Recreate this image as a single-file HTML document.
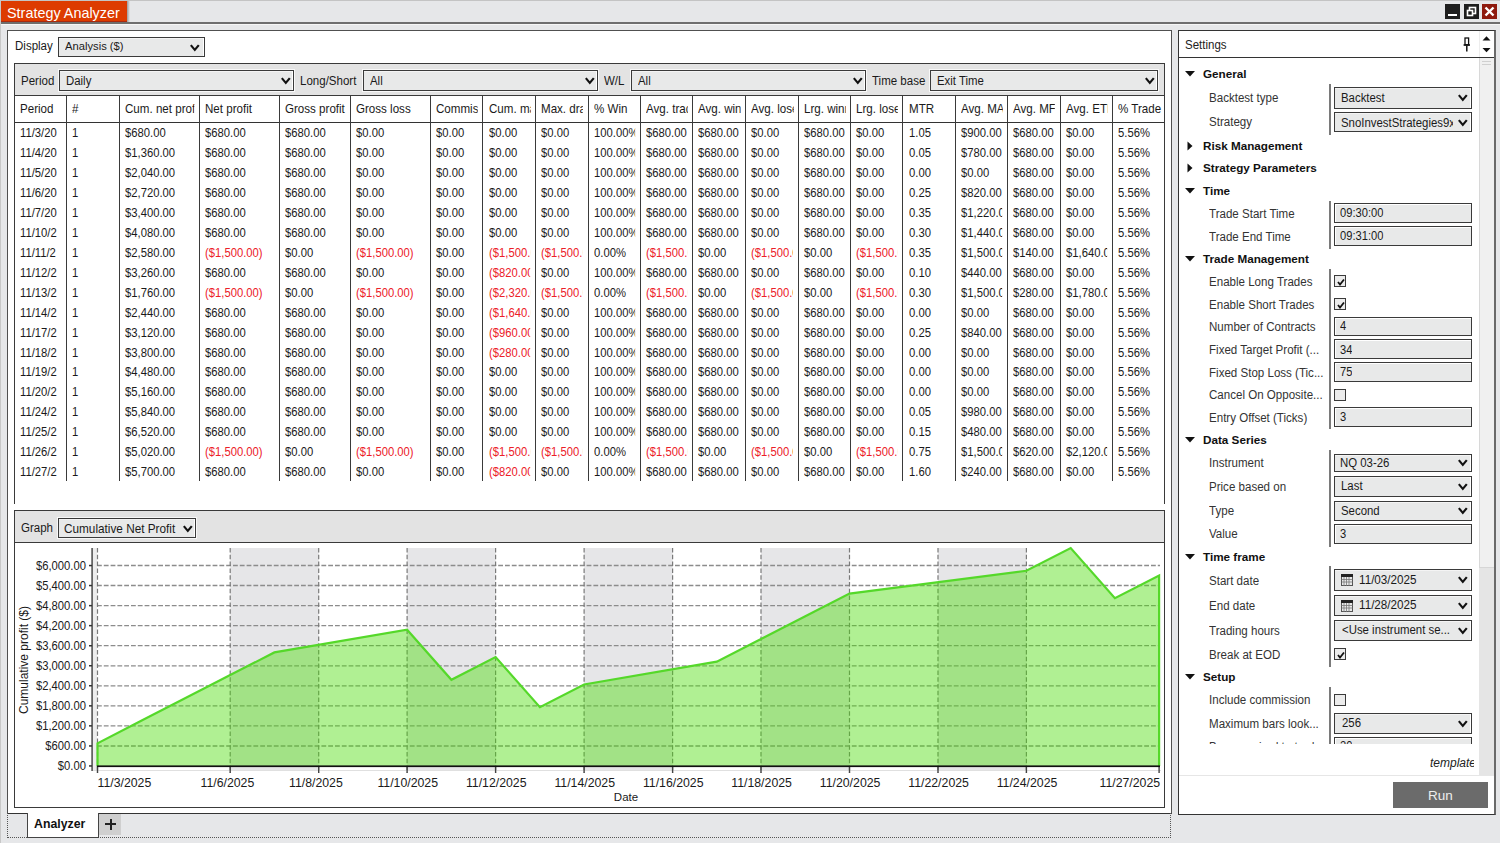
<!DOCTYPE html><html><head><meta charset="utf-8"><style>
*{box-sizing:border-box;margin:0;padding:0}
html,body{width:1500px;height:843px;overflow:hidden;background:#E6E7E9;font-family:"Liberation Sans", sans-serif;color:#1a1a1a}
.a{position:absolute}
.dd{position:absolute;background:#E8E9E9;border:1px solid #3a3a3a;box-shadow:0 0 0 1px rgba(255,255,255,0.75), inset -1px 0 0 #fff, inset 0 1px 0 #f4f4f4}
.ddt{position:absolute;top:0.8px;white-space:nowrap;overflow:hidden;color:#1a1a1a}
.tb{position:absolute;background:#E8E9E9;border:1px solid #3a3a3a;box-shadow:inset 1px 1px 0 #fff}
.cb{position:absolute;background:#ECECEC;border:1px solid #3a3a3a;width:12px;height:12px}
.lbl{position:absolute;white-space:nowrap;font-size:12px;transform:scaleX(0.96);transform-origin:0 0}
.cell{position:absolute;white-space:nowrap;overflow:hidden;font-size:11.5px;letter-spacing:-0.3px}
.red{color:#EC2028}
.dc{font-size:12.3px;letter-spacing:0;transform:scaleX(0.915);transform-origin:0 0}
.cat{position:absolute;white-space:nowrap;font-weight:bold;font-size:11.7px;color:#111}
.item{position:absolute;white-space:nowrap;font-size:12px;color:#333;transform:scaleX(0.963);transform-origin:0 0}
</style></head><body><div class="a" style="left:0;top:0;width:1500px;height:1px;background:#C4C4C4"></div><div class="a" style="left:0;top:22px;width:1500px;height:2px;background:#6E6E6E"></div><div class="a" style="left:0;top:24px;width:1500px;height:1px;background:#F6F6F6"></div><div class="a" style="left:0;top:0;width:1px;height:843px;background:#C8C8C8"></div><div class="a" style="left:1px;top:1px;width:126px;height:21px;background:#DD3B00;border-bottom:1px solid #A82A10"></div><div class="a" style="left:127px;top:1px;width:3px;height:21px;background:linear-gradient(90deg,#9a9a9a,#E6E7E9)"></div><div class="a" style="left:7px;top:2.5px;line-height:21px;font-size:14.4px;color:#fff;white-space:nowrap">Strategy Analyzer</div><div class="a" style="left:1445px;top:4px;width:15px;height:15px;background:#1E1E1E"></div><div class="a" style="left:1448px;top:14px;width:9px;height:2px;background:#fff"></div><div class="a" style="left:1464px;top:4px;width:15px;height:15px;background:#1E1E1E"></div><svg class="a" style="left:1464px;top:4px" width="15" height="15" viewBox="0 0 15 15"><rect x="5.5" y="3.5" width="6" height="6" fill="none" stroke="#fff" stroke-width="1.6"/><rect x="3.5" y="6.5" width="5" height="5" fill="#1E1E1E" stroke="#fff" stroke-width="1.6"/></svg><div class="a" style="left:1482px;top:4px;width:15px;height:15px;background:#8E1A0E"></div><svg class="a" style="left:1482px;top:4px" width="15" height="15" viewBox="0 0 15 15"><path d="M3.5 3.5 L11.5 11.5 M11.5 3.5 L3.5 11.5" stroke="#fff" stroke-width="2.4"/></svg><div class="a" style="left:7px;top:30px;width:1165px;height:784px;background:#fff;border:1px solid #505050;border-bottom:1px solid #333"></div><div class="a" style="left:7px;top:813px;width:1px;height:25px;border-left:1px dotted #555"></div><div class="a" style="left:1170px;top:813px;width:1px;height:25px;border-left:1px dotted #555"></div><div class="a" style="left:7px;top:837px;width:1164px;height:1px;border-top:1px dotted #555"></div><div class="a" style="left:26.5px;top:813px;width:72px;height:25px;background:#fff;border-left:1px solid #444;border-right:1px solid #444;border-bottom:1px solid #444"></div><div class="a" style="left:34px;top:814px;line-height:20px;font-size:12.3px;font-weight:bold;color:#111">Analyzer</div><div class="a" style="left:99px;top:814px;width:22px;height:21px;background:#CFCFCF"></div><div class="a" style="left:105px;top:823px;width:11px;height:2px;background:#222"></div><div class="a" style="left:109.5px;top:818.5px;width:2px;height:11px;background:#222"></div><div class="lbl" style="left:14.5px;top:36.3px;line-height:20px">Display</div><div class="dd" style="left:58px;top:37px;width:147px;height:20px;"><div class="ddt" style="left:6px;top:-0.7px;line-height:18px;font-size:11.8px;width:127.4px;transform:scaleX(0.95);transform-origin:0 0">Analysis ($)</div><svg style="position:absolute;left:130.5px;top:5.5px" width="10" height="8" viewBox="0 0 10 8"><path d="M0.8 1.1 L4.8 5.9 L8.8 1.1" fill="none" stroke="#111" stroke-width="2.2"/></svg></div><div class="a" style="left:14px;top:63px;width:1151px;height:441px;border:1px solid #3a3a3a;border-bottom:none;background:#fff"></div><div class="a" style="left:15px;top:64px;width:1149px;height:32px;background:#E3E3E3;border-bottom:1px solid #3a3a3a"></div><div class="lbl" style="left:21px;top:70.7px;line-height:20px">Period</div><div class="dd" style="left:59px;top:70px;width:235px;height:21px;"><div class="ddt" style="left:6px;top:0.8px;line-height:19px;font-size:12px;width:220.0px;transform:scaleX(0.95);transform-origin:0 0">Daily</div><svg style="position:absolute;left:221px;top:6.0px" width="10" height="8" viewBox="0 0 10 8"><path d="M0.8 1.1 L4.8 5.9 L8.8 1.1" fill="none" stroke="#111" stroke-width="2.2"/></svg></div><div class="lbl" style="left:300px;top:70.7px;line-height:20px">Long/Short</div><div class="dd" style="left:363px;top:70px;width:235px;height:21px;"><div class="ddt" style="left:6px;top:0.8px;line-height:19px;font-size:12px;width:220.0px;transform:scaleX(0.95);transform-origin:0 0">All</div><svg style="position:absolute;left:221px;top:6.0px" width="10" height="8" viewBox="0 0 10 8"><path d="M0.8 1.1 L4.8 5.9 L8.8 1.1" fill="none" stroke="#111" stroke-width="2.2"/></svg></div><div class="lbl" style="left:604px;top:70.7px;line-height:20px">W/L</div><div class="dd" style="left:631px;top:70px;width:235px;height:21px;"><div class="ddt" style="left:6px;top:0.8px;line-height:19px;font-size:12px;width:220.0px;transform:scaleX(0.95);transform-origin:0 0">All</div><svg style="position:absolute;left:221px;top:6.0px" width="10" height="8" viewBox="0 0 10 8"><path d="M0.8 1.1 L4.8 5.9 L8.8 1.1" fill="none" stroke="#111" stroke-width="2.2"/></svg></div><div class="lbl" style="left:872px;top:70.7px;line-height:20px">Time base</div><div class="dd" style="left:930px;top:70px;width:228px;height:21px;"><div class="ddt" style="left:6px;top:0.8px;line-height:19px;font-size:12px;width:212.6px;transform:scaleX(0.95);transform-origin:0 0">Exit Time</div><svg style="position:absolute;left:214px;top:6.0px" width="10" height="8" viewBox="0 0 10 8"><path d="M0.8 1.1 L4.8 5.9 L8.8 1.1" fill="none" stroke="#111" stroke-width="2.2"/></svg></div><div class="a" style="left:15px;top:122px;width:1149px;height:1px;background:#333"></div><div class="a" style="left:66px;top:95px;width:1px;height:386px;background:#3a3a3a"></div><div class="a" style="left:119px;top:95px;width:1px;height:386px;background:#3a3a3a"></div><div class="a" style="left:199px;top:95px;width:1px;height:386px;background:#3a3a3a"></div><div class="a" style="left:279px;top:95px;width:1px;height:386px;background:#3a3a3a"></div><div class="a" style="left:350px;top:95px;width:1px;height:386px;background:#3a3a3a"></div><div class="a" style="left:430px;top:95px;width:1px;height:386px;background:#3a3a3a"></div><div class="a" style="left:482px;top:95px;width:1px;height:386px;background:#3a3a3a"></div><div class="a" style="left:535px;top:95px;width:1px;height:386px;background:#3a3a3a"></div><div class="a" style="left:588px;top:95px;width:1px;height:386px;background:#3a3a3a"></div><div class="a" style="left:640px;top:95px;width:1px;height:386px;background:#3a3a3a"></div><div class="a" style="left:692px;top:95px;width:1px;height:386px;background:#3a3a3a"></div><div class="a" style="left:745px;top:95px;width:1px;height:386px;background:#3a3a3a"></div><div class="a" style="left:798px;top:95px;width:1px;height:386px;background:#3a3a3a"></div><div class="a" style="left:850px;top:95px;width:1px;height:386px;background:#3a3a3a"></div><div class="a" style="left:902px;top:95px;width:1px;height:386px;background:#3a3a3a"></div><div class="a" style="left:955px;top:95px;width:1px;height:386px;background:#3a3a3a"></div><div class="a" style="left:1007px;top:95px;width:1px;height:386px;background:#3a3a3a"></div><div class="a" style="left:1060px;top:95px;width:1px;height:386px;background:#3a3a3a"></div><div class="a" style="left:1112px;top:95px;width:1px;height:386px;background:#3a3a3a"></div><div class="cell" style="left:19.5px;top:96px;width:44.5px;line-height:26px;letter-spacing:0;font-size:12.2px;transform:scaleX(0.95);transform-origin:0 0">Period</div><div class="cell" style="left:72.25px;top:96px;width:44.2px;line-height:26px;letter-spacing:0;font-size:12.2px;transform:scaleX(0.95);transform-origin:0 0">#</div><div class="cell" style="left:124.75px;top:96px;width:73.2px;line-height:26px;letter-spacing:0;font-size:12.2px;transform:scaleX(0.95);transform-origin:0 0">Cum. net profit</div><div class="cell" style="left:204.75px;top:96px;width:73.2px;line-height:26px;letter-spacing:0;font-size:12.2px;transform:scaleX(0.95);transform-origin:0 0">Net profit</div><div class="cell" style="left:284.75px;top:96px;width:63.9px;line-height:26px;letter-spacing:0;font-size:12.2px;transform:scaleX(0.95);transform-origin:0 0">Gross profit</div><div class="cell" style="left:356.0px;top:96px;width:73.2px;line-height:26px;letter-spacing:0;font-size:12.2px;transform:scaleX(0.95);transform-origin:0 0">Gross loss</div><div class="cell" style="left:436.0px;top:96px;width:44.2px;line-height:26px;letter-spacing:0;font-size:12.2px;transform:scaleX(0.95);transform-origin:0 0">Commission</div><div class="cell" style="left:488.5px;top:96px;width:44.2px;line-height:26px;letter-spacing:0;font-size:12.2px;transform:scaleX(0.95);transform-origin:0 0">Cum. max drawdown</div><div class="cell" style="left:541.0px;top:96px;width:44.2px;line-height:26px;letter-spacing:0;font-size:12.2px;transform:scaleX(0.95);transform-origin:0 0">Max. drawdown</div><div class="cell" style="left:593.5px;top:96px;width:44.2px;line-height:26px;letter-spacing:0;font-size:12.2px;transform:scaleX(0.95);transform-origin:0 0">% Win</div><div class="cell" style="left:646.0px;top:96px;width:43.7px;line-height:26px;letter-spacing:0;font-size:12.2px;transform:scaleX(0.95);transform-origin:0 0">Avg. trade</div><div class="cell" style="left:698.0px;top:96px;width:44.7px;line-height:26px;letter-spacing:0;font-size:12.2px;transform:scaleX(0.95);transform-origin:0 0">Avg. winner</div><div class="cell" style="left:751.0px;top:96px;width:44.7px;line-height:26px;letter-spacing:0;font-size:12.2px;transform:scaleX(0.95);transform-origin:0 0">Avg. loser</div><div class="cell" style="left:804.0px;top:96px;width:43.9px;line-height:26px;letter-spacing:0;font-size:12.2px;transform:scaleX(0.95);transform-origin:0 0">Lrg. winner</div><div class="cell" style="left:856.25px;top:96px;width:43.9px;line-height:26px;letter-spacing:0;font-size:12.2px;transform:scaleX(0.95);transform-origin:0 0">Lrg. loser</div><div class="cell" style="left:908.5px;top:96px;width:44.2px;line-height:26px;letter-spacing:0;font-size:12.2px;transform:scaleX(0.95);transform-origin:0 0">MTR</div><div class="cell" style="left:961.0px;top:96px;width:43.7px;line-height:26px;letter-spacing:0;font-size:12.2px;transform:scaleX(0.95);transform-origin:0 0">Avg. MAE</div><div class="cell" style="left:1013.0px;top:96px;width:44.4px;line-height:26px;letter-spacing:0;font-size:12.2px;transform:scaleX(0.95);transform-origin:0 0">Avg. MFE</div><div class="cell" style="left:1065.7px;top:96px;width:43.9px;line-height:26px;letter-spacing:0;font-size:12.2px;transform:scaleX(0.95);transform-origin:0 0">Avg. ETD</div><div class="cell" style="left:1117.9px;top:96px;width:50.3px;line-height:26px;letter-spacing:0;font-size:12.2px;transform:scaleX(0.95);transform-origin:0 0">% Trade</div><div class="cell dc" style="left:19.6px;top:123.20px;width:45.63px;line-height:20px">11/3/20</div><div class="cell dc" style="left:72.35px;top:123.20px;width:45.36px;line-height:20px">1</div><div class="cell dc" style="left:124.85px;top:123.20px;width:75.41px;line-height:20px">$680.00</div><div class="cell dc" style="left:204.85px;top:123.20px;width:75.41px;line-height:20px">$680.00</div><div class="cell dc" style="left:284.85px;top:123.20px;width:65.85px;line-height:20px">$680.00</div><div class="cell dc" style="left:356.1px;top:123.20px;width:75.41px;line-height:20px">$0.00</div><div class="cell dc" style="left:436.1px;top:123.20px;width:45.36px;line-height:20px">$0.00</div><div class="cell dc" style="left:488.6px;top:123.20px;width:45.36px;line-height:20px">$0.00</div><div class="cell dc" style="left:541.1px;top:123.20px;width:45.36px;line-height:20px">$0.00</div><div class="cell dc" style="left:593.6px;top:123.20px;width:45.36px;line-height:20px">100.00%</div><div class="cell dc" style="left:646.1px;top:123.20px;width:44.81px;line-height:20px">$680.00</div><div class="cell dc" style="left:698.1px;top:123.20px;width:45.90px;line-height:20px">$680.00</div><div class="cell dc" style="left:751.1px;top:123.20px;width:45.90px;line-height:20px">$0.00</div><div class="cell dc" style="left:804.1px;top:123.20px;width:45.08px;line-height:20px">$680.00</div><div class="cell dc" style="left:856.35px;top:123.20px;width:45.08px;line-height:20px">$0.00</div><div class="cell dc" style="left:908.6px;top:123.20px;width:45.36px;line-height:20px">1.05</div><div class="cell dc" style="left:961.1px;top:123.20px;width:44.81px;line-height:20px">$900.00</div><div class="cell dc" style="left:1013.1px;top:123.20px;width:45.57px;line-height:20px">$680.00</div><div class="cell dc" style="left:1065.8px;top:123.20px;width:45.03px;line-height:20px">$0.00</div><div class="cell dc" style="left:1118.0px;top:123.20px;width:45.14px;line-height:20px">5.56%</div><div class="cell dc" style="left:19.6px;top:143.14px;width:45.63px;line-height:20px">11/4/20</div><div class="cell dc" style="left:72.35px;top:143.14px;width:45.36px;line-height:20px">1</div><div class="cell dc" style="left:124.85px;top:143.14px;width:75.41px;line-height:20px">$1,360.00</div><div class="cell dc" style="left:204.85px;top:143.14px;width:75.41px;line-height:20px">$680.00</div><div class="cell dc" style="left:284.85px;top:143.14px;width:65.85px;line-height:20px">$680.00</div><div class="cell dc" style="left:356.1px;top:143.14px;width:75.41px;line-height:20px">$0.00</div><div class="cell dc" style="left:436.1px;top:143.14px;width:45.36px;line-height:20px">$0.00</div><div class="cell dc" style="left:488.6px;top:143.14px;width:45.36px;line-height:20px">$0.00</div><div class="cell dc" style="left:541.1px;top:143.14px;width:45.36px;line-height:20px">$0.00</div><div class="cell dc" style="left:593.6px;top:143.14px;width:45.36px;line-height:20px">100.00%</div><div class="cell dc" style="left:646.1px;top:143.14px;width:44.81px;line-height:20px">$680.00</div><div class="cell dc" style="left:698.1px;top:143.14px;width:45.90px;line-height:20px">$680.00</div><div class="cell dc" style="left:751.1px;top:143.14px;width:45.90px;line-height:20px">$0.00</div><div class="cell dc" style="left:804.1px;top:143.14px;width:45.08px;line-height:20px">$680.00</div><div class="cell dc" style="left:856.35px;top:143.14px;width:45.08px;line-height:20px">$0.00</div><div class="cell dc" style="left:908.6px;top:143.14px;width:45.36px;line-height:20px">0.05</div><div class="cell dc" style="left:961.1px;top:143.14px;width:44.81px;line-height:20px">$780.00</div><div class="cell dc" style="left:1013.1px;top:143.14px;width:45.57px;line-height:20px">$680.00</div><div class="cell dc" style="left:1065.8px;top:143.14px;width:45.03px;line-height:20px">$0.00</div><div class="cell dc" style="left:1118.0px;top:143.14px;width:45.14px;line-height:20px">5.56%</div><div class="cell dc" style="left:19.6px;top:163.08px;width:45.63px;line-height:20px">11/5/20</div><div class="cell dc" style="left:72.35px;top:163.08px;width:45.36px;line-height:20px">1</div><div class="cell dc" style="left:124.85px;top:163.08px;width:75.41px;line-height:20px">$2,040.00</div><div class="cell dc" style="left:204.85px;top:163.08px;width:75.41px;line-height:20px">$680.00</div><div class="cell dc" style="left:284.85px;top:163.08px;width:65.85px;line-height:20px">$680.00</div><div class="cell dc" style="left:356.1px;top:163.08px;width:75.41px;line-height:20px">$0.00</div><div class="cell dc" style="left:436.1px;top:163.08px;width:45.36px;line-height:20px">$0.00</div><div class="cell dc" style="left:488.6px;top:163.08px;width:45.36px;line-height:20px">$0.00</div><div class="cell dc" style="left:541.1px;top:163.08px;width:45.36px;line-height:20px">$0.00</div><div class="cell dc" style="left:593.6px;top:163.08px;width:45.36px;line-height:20px">100.00%</div><div class="cell dc" style="left:646.1px;top:163.08px;width:44.81px;line-height:20px">$680.00</div><div class="cell dc" style="left:698.1px;top:163.08px;width:45.90px;line-height:20px">$680.00</div><div class="cell dc" style="left:751.1px;top:163.08px;width:45.90px;line-height:20px">$0.00</div><div class="cell dc" style="left:804.1px;top:163.08px;width:45.08px;line-height:20px">$680.00</div><div class="cell dc" style="left:856.35px;top:163.08px;width:45.08px;line-height:20px">$0.00</div><div class="cell dc" style="left:908.6px;top:163.08px;width:45.36px;line-height:20px">0.00</div><div class="cell dc" style="left:961.1px;top:163.08px;width:44.81px;line-height:20px">$0.00</div><div class="cell dc" style="left:1013.1px;top:163.08px;width:45.57px;line-height:20px">$680.00</div><div class="cell dc" style="left:1065.8px;top:163.08px;width:45.03px;line-height:20px">$0.00</div><div class="cell dc" style="left:1118.0px;top:163.08px;width:45.14px;line-height:20px">5.56%</div><div class="cell dc" style="left:19.6px;top:183.02px;width:45.63px;line-height:20px">11/6/20</div><div class="cell dc" style="left:72.35px;top:183.02px;width:45.36px;line-height:20px">1</div><div class="cell dc" style="left:124.85px;top:183.02px;width:75.41px;line-height:20px">$2,720.00</div><div class="cell dc" style="left:204.85px;top:183.02px;width:75.41px;line-height:20px">$680.00</div><div class="cell dc" style="left:284.85px;top:183.02px;width:65.85px;line-height:20px">$680.00</div><div class="cell dc" style="left:356.1px;top:183.02px;width:75.41px;line-height:20px">$0.00</div><div class="cell dc" style="left:436.1px;top:183.02px;width:45.36px;line-height:20px">$0.00</div><div class="cell dc" style="left:488.6px;top:183.02px;width:45.36px;line-height:20px">$0.00</div><div class="cell dc" style="left:541.1px;top:183.02px;width:45.36px;line-height:20px">$0.00</div><div class="cell dc" style="left:593.6px;top:183.02px;width:45.36px;line-height:20px">100.00%</div><div class="cell dc" style="left:646.1px;top:183.02px;width:44.81px;line-height:20px">$680.00</div><div class="cell dc" style="left:698.1px;top:183.02px;width:45.90px;line-height:20px">$680.00</div><div class="cell dc" style="left:751.1px;top:183.02px;width:45.90px;line-height:20px">$0.00</div><div class="cell dc" style="left:804.1px;top:183.02px;width:45.08px;line-height:20px">$680.00</div><div class="cell dc" style="left:856.35px;top:183.02px;width:45.08px;line-height:20px">$0.00</div><div class="cell dc" style="left:908.6px;top:183.02px;width:45.36px;line-height:20px">0.25</div><div class="cell dc" style="left:961.1px;top:183.02px;width:44.81px;line-height:20px">$820.00</div><div class="cell dc" style="left:1013.1px;top:183.02px;width:45.57px;line-height:20px">$680.00</div><div class="cell dc" style="left:1065.8px;top:183.02px;width:45.03px;line-height:20px">$0.00</div><div class="cell dc" style="left:1118.0px;top:183.02px;width:45.14px;line-height:20px">5.56%</div><div class="cell dc" style="left:19.6px;top:202.96px;width:45.63px;line-height:20px">11/7/20</div><div class="cell dc" style="left:72.35px;top:202.96px;width:45.36px;line-height:20px">1</div><div class="cell dc" style="left:124.85px;top:202.96px;width:75.41px;line-height:20px">$3,400.00</div><div class="cell dc" style="left:204.85px;top:202.96px;width:75.41px;line-height:20px">$680.00</div><div class="cell dc" style="left:284.85px;top:202.96px;width:65.85px;line-height:20px">$680.00</div><div class="cell dc" style="left:356.1px;top:202.96px;width:75.41px;line-height:20px">$0.00</div><div class="cell dc" style="left:436.1px;top:202.96px;width:45.36px;line-height:20px">$0.00</div><div class="cell dc" style="left:488.6px;top:202.96px;width:45.36px;line-height:20px">$0.00</div><div class="cell dc" style="left:541.1px;top:202.96px;width:45.36px;line-height:20px">$0.00</div><div class="cell dc" style="left:593.6px;top:202.96px;width:45.36px;line-height:20px">100.00%</div><div class="cell dc" style="left:646.1px;top:202.96px;width:44.81px;line-height:20px">$680.00</div><div class="cell dc" style="left:698.1px;top:202.96px;width:45.90px;line-height:20px">$680.00</div><div class="cell dc" style="left:751.1px;top:202.96px;width:45.90px;line-height:20px">$0.00</div><div class="cell dc" style="left:804.1px;top:202.96px;width:45.08px;line-height:20px">$680.00</div><div class="cell dc" style="left:856.35px;top:202.96px;width:45.08px;line-height:20px">$0.00</div><div class="cell dc" style="left:908.6px;top:202.96px;width:45.36px;line-height:20px">0.35</div><div class="cell dc" style="left:961.1px;top:202.96px;width:44.81px;line-height:20px">$1,220.00</div><div class="cell dc" style="left:1013.1px;top:202.96px;width:45.57px;line-height:20px">$680.00</div><div class="cell dc" style="left:1065.8px;top:202.96px;width:45.03px;line-height:20px">$0.00</div><div class="cell dc" style="left:1118.0px;top:202.96px;width:45.14px;line-height:20px">5.56%</div><div class="cell dc" style="left:19.6px;top:222.90px;width:45.63px;line-height:20px">11/10/2</div><div class="cell dc" style="left:72.35px;top:222.90px;width:45.36px;line-height:20px">1</div><div class="cell dc" style="left:124.85px;top:222.90px;width:75.41px;line-height:20px">$4,080.00</div><div class="cell dc" style="left:204.85px;top:222.90px;width:75.41px;line-height:20px">$680.00</div><div class="cell dc" style="left:284.85px;top:222.90px;width:65.85px;line-height:20px">$680.00</div><div class="cell dc" style="left:356.1px;top:222.90px;width:75.41px;line-height:20px">$0.00</div><div class="cell dc" style="left:436.1px;top:222.90px;width:45.36px;line-height:20px">$0.00</div><div class="cell dc" style="left:488.6px;top:222.90px;width:45.36px;line-height:20px">$0.00</div><div class="cell dc" style="left:541.1px;top:222.90px;width:45.36px;line-height:20px">$0.00</div><div class="cell dc" style="left:593.6px;top:222.90px;width:45.36px;line-height:20px">100.00%</div><div class="cell dc" style="left:646.1px;top:222.90px;width:44.81px;line-height:20px">$680.00</div><div class="cell dc" style="left:698.1px;top:222.90px;width:45.90px;line-height:20px">$680.00</div><div class="cell dc" style="left:751.1px;top:222.90px;width:45.90px;line-height:20px">$0.00</div><div class="cell dc" style="left:804.1px;top:222.90px;width:45.08px;line-height:20px">$680.00</div><div class="cell dc" style="left:856.35px;top:222.90px;width:45.08px;line-height:20px">$0.00</div><div class="cell dc" style="left:908.6px;top:222.90px;width:45.36px;line-height:20px">0.30</div><div class="cell dc" style="left:961.1px;top:222.90px;width:44.81px;line-height:20px">$1,440.00</div><div class="cell dc" style="left:1013.1px;top:222.90px;width:45.57px;line-height:20px">$680.00</div><div class="cell dc" style="left:1065.8px;top:222.90px;width:45.03px;line-height:20px">$0.00</div><div class="cell dc" style="left:1118.0px;top:222.90px;width:45.14px;line-height:20px">5.56%</div><div class="cell dc" style="left:19.6px;top:242.84px;width:45.63px;line-height:20px">11/11/2</div><div class="cell dc" style="left:72.35px;top:242.84px;width:45.36px;line-height:20px">1</div><div class="cell dc" style="left:124.85px;top:242.84px;width:75.41px;line-height:20px">$2,580.00</div><div class="cell red dc" style="left:204.85px;top:242.84px;width:75.41px;line-height:20px">($1,500.00)</div><div class="cell dc" style="left:284.85px;top:242.84px;width:65.85px;line-height:20px">$0.00</div><div class="cell red dc" style="left:356.1px;top:242.84px;width:75.41px;line-height:20px">($1,500.00)</div><div class="cell dc" style="left:436.1px;top:242.84px;width:45.36px;line-height:20px">$0.00</div><div class="cell red dc" style="left:488.6px;top:242.84px;width:45.36px;line-height:20px">($1,500.00)</div><div class="cell red dc" style="left:541.1px;top:242.84px;width:45.36px;line-height:20px">($1,500.00)</div><div class="cell dc" style="left:593.6px;top:242.84px;width:45.36px;line-height:20px">0.00%</div><div class="cell red dc" style="left:646.1px;top:242.84px;width:44.81px;line-height:20px">($1,500.00)</div><div class="cell dc" style="left:698.1px;top:242.84px;width:45.90px;line-height:20px">$0.00</div><div class="cell red dc" style="left:751.1px;top:242.84px;width:45.90px;line-height:20px">($1,500.00)</div><div class="cell dc" style="left:804.1px;top:242.84px;width:45.08px;line-height:20px">$0.00</div><div class="cell red dc" style="left:856.35px;top:242.84px;width:45.08px;line-height:20px">($1,500.00)</div><div class="cell dc" style="left:908.6px;top:242.84px;width:45.36px;line-height:20px">0.35</div><div class="cell dc" style="left:961.1px;top:242.84px;width:44.81px;line-height:20px">$1,500.00</div><div class="cell dc" style="left:1013.1px;top:242.84px;width:45.57px;line-height:20px">$140.00</div><div class="cell dc" style="left:1065.8px;top:242.84px;width:45.03px;line-height:20px">$1,640.00</div><div class="cell dc" style="left:1118.0px;top:242.84px;width:45.14px;line-height:20px">5.56%</div><div class="cell dc" style="left:19.6px;top:262.78px;width:45.63px;line-height:20px">11/12/2</div><div class="cell dc" style="left:72.35px;top:262.78px;width:45.36px;line-height:20px">1</div><div class="cell dc" style="left:124.85px;top:262.78px;width:75.41px;line-height:20px">$3,260.00</div><div class="cell dc" style="left:204.85px;top:262.78px;width:75.41px;line-height:20px">$680.00</div><div class="cell dc" style="left:284.85px;top:262.78px;width:65.85px;line-height:20px">$680.00</div><div class="cell dc" style="left:356.1px;top:262.78px;width:75.41px;line-height:20px">$0.00</div><div class="cell dc" style="left:436.1px;top:262.78px;width:45.36px;line-height:20px">$0.00</div><div class="cell red dc" style="left:488.6px;top:262.78px;width:45.36px;line-height:20px">($820.00)</div><div class="cell dc" style="left:541.1px;top:262.78px;width:45.36px;line-height:20px">$0.00</div><div class="cell dc" style="left:593.6px;top:262.78px;width:45.36px;line-height:20px">100.00%</div><div class="cell dc" style="left:646.1px;top:262.78px;width:44.81px;line-height:20px">$680.00</div><div class="cell dc" style="left:698.1px;top:262.78px;width:45.90px;line-height:20px">$680.00</div><div class="cell dc" style="left:751.1px;top:262.78px;width:45.90px;line-height:20px">$0.00</div><div class="cell dc" style="left:804.1px;top:262.78px;width:45.08px;line-height:20px">$680.00</div><div class="cell dc" style="left:856.35px;top:262.78px;width:45.08px;line-height:20px">$0.00</div><div class="cell dc" style="left:908.6px;top:262.78px;width:45.36px;line-height:20px">0.10</div><div class="cell dc" style="left:961.1px;top:262.78px;width:44.81px;line-height:20px">$440.00</div><div class="cell dc" style="left:1013.1px;top:262.78px;width:45.57px;line-height:20px">$680.00</div><div class="cell dc" style="left:1065.8px;top:262.78px;width:45.03px;line-height:20px">$0.00</div><div class="cell dc" style="left:1118.0px;top:262.78px;width:45.14px;line-height:20px">5.56%</div><div class="cell dc" style="left:19.6px;top:282.72px;width:45.63px;line-height:20px">11/13/2</div><div class="cell dc" style="left:72.35px;top:282.72px;width:45.36px;line-height:20px">1</div><div class="cell dc" style="left:124.85px;top:282.72px;width:75.41px;line-height:20px">$1,760.00</div><div class="cell red dc" style="left:204.85px;top:282.72px;width:75.41px;line-height:20px">($1,500.00)</div><div class="cell dc" style="left:284.85px;top:282.72px;width:65.85px;line-height:20px">$0.00</div><div class="cell red dc" style="left:356.1px;top:282.72px;width:75.41px;line-height:20px">($1,500.00)</div><div class="cell dc" style="left:436.1px;top:282.72px;width:45.36px;line-height:20px">$0.00</div><div class="cell red dc" style="left:488.6px;top:282.72px;width:45.36px;line-height:20px">($2,320.00)</div><div class="cell red dc" style="left:541.1px;top:282.72px;width:45.36px;line-height:20px">($1,500.00)</div><div class="cell dc" style="left:593.6px;top:282.72px;width:45.36px;line-height:20px">0.00%</div><div class="cell red dc" style="left:646.1px;top:282.72px;width:44.81px;line-height:20px">($1,500.00)</div><div class="cell dc" style="left:698.1px;top:282.72px;width:45.90px;line-height:20px">$0.00</div><div class="cell red dc" style="left:751.1px;top:282.72px;width:45.90px;line-height:20px">($1,500.00)</div><div class="cell dc" style="left:804.1px;top:282.72px;width:45.08px;line-height:20px">$0.00</div><div class="cell red dc" style="left:856.35px;top:282.72px;width:45.08px;line-height:20px">($1,500.00)</div><div class="cell dc" style="left:908.6px;top:282.72px;width:45.36px;line-height:20px">0.30</div><div class="cell dc" style="left:961.1px;top:282.72px;width:44.81px;line-height:20px">$1,500.00</div><div class="cell dc" style="left:1013.1px;top:282.72px;width:45.57px;line-height:20px">$280.00</div><div class="cell dc" style="left:1065.8px;top:282.72px;width:45.03px;line-height:20px">$1,780.00</div><div class="cell dc" style="left:1118.0px;top:282.72px;width:45.14px;line-height:20px">5.56%</div><div class="cell dc" style="left:19.6px;top:302.66px;width:45.63px;line-height:20px">11/14/2</div><div class="cell dc" style="left:72.35px;top:302.66px;width:45.36px;line-height:20px">1</div><div class="cell dc" style="left:124.85px;top:302.66px;width:75.41px;line-height:20px">$2,440.00</div><div class="cell dc" style="left:204.85px;top:302.66px;width:75.41px;line-height:20px">$680.00</div><div class="cell dc" style="left:284.85px;top:302.66px;width:65.85px;line-height:20px">$680.00</div><div class="cell dc" style="left:356.1px;top:302.66px;width:75.41px;line-height:20px">$0.00</div><div class="cell dc" style="left:436.1px;top:302.66px;width:45.36px;line-height:20px">$0.00</div><div class="cell red dc" style="left:488.6px;top:302.66px;width:45.36px;line-height:20px">($1,640.00)</div><div class="cell dc" style="left:541.1px;top:302.66px;width:45.36px;line-height:20px">$0.00</div><div class="cell dc" style="left:593.6px;top:302.66px;width:45.36px;line-height:20px">100.00%</div><div class="cell dc" style="left:646.1px;top:302.66px;width:44.81px;line-height:20px">$680.00</div><div class="cell dc" style="left:698.1px;top:302.66px;width:45.90px;line-height:20px">$680.00</div><div class="cell dc" style="left:751.1px;top:302.66px;width:45.90px;line-height:20px">$0.00</div><div class="cell dc" style="left:804.1px;top:302.66px;width:45.08px;line-height:20px">$680.00</div><div class="cell dc" style="left:856.35px;top:302.66px;width:45.08px;line-height:20px">$0.00</div><div class="cell dc" style="left:908.6px;top:302.66px;width:45.36px;line-height:20px">0.00</div><div class="cell dc" style="left:961.1px;top:302.66px;width:44.81px;line-height:20px">$0.00</div><div class="cell dc" style="left:1013.1px;top:302.66px;width:45.57px;line-height:20px">$680.00</div><div class="cell dc" style="left:1065.8px;top:302.66px;width:45.03px;line-height:20px">$0.00</div><div class="cell dc" style="left:1118.0px;top:302.66px;width:45.14px;line-height:20px">5.56%</div><div class="cell dc" style="left:19.6px;top:322.60px;width:45.63px;line-height:20px">11/17/2</div><div class="cell dc" style="left:72.35px;top:322.60px;width:45.36px;line-height:20px">1</div><div class="cell dc" style="left:124.85px;top:322.60px;width:75.41px;line-height:20px">$3,120.00</div><div class="cell dc" style="left:204.85px;top:322.60px;width:75.41px;line-height:20px">$680.00</div><div class="cell dc" style="left:284.85px;top:322.60px;width:65.85px;line-height:20px">$680.00</div><div class="cell dc" style="left:356.1px;top:322.60px;width:75.41px;line-height:20px">$0.00</div><div class="cell dc" style="left:436.1px;top:322.60px;width:45.36px;line-height:20px">$0.00</div><div class="cell red dc" style="left:488.6px;top:322.60px;width:45.36px;line-height:20px">($960.00)</div><div class="cell dc" style="left:541.1px;top:322.60px;width:45.36px;line-height:20px">$0.00</div><div class="cell dc" style="left:593.6px;top:322.60px;width:45.36px;line-height:20px">100.00%</div><div class="cell dc" style="left:646.1px;top:322.60px;width:44.81px;line-height:20px">$680.00</div><div class="cell dc" style="left:698.1px;top:322.60px;width:45.90px;line-height:20px">$680.00</div><div class="cell dc" style="left:751.1px;top:322.60px;width:45.90px;line-height:20px">$0.00</div><div class="cell dc" style="left:804.1px;top:322.60px;width:45.08px;line-height:20px">$680.00</div><div class="cell dc" style="left:856.35px;top:322.60px;width:45.08px;line-height:20px">$0.00</div><div class="cell dc" style="left:908.6px;top:322.60px;width:45.36px;line-height:20px">0.25</div><div class="cell dc" style="left:961.1px;top:322.60px;width:44.81px;line-height:20px">$840.00</div><div class="cell dc" style="left:1013.1px;top:322.60px;width:45.57px;line-height:20px">$680.00</div><div class="cell dc" style="left:1065.8px;top:322.60px;width:45.03px;line-height:20px">$0.00</div><div class="cell dc" style="left:1118.0px;top:322.60px;width:45.14px;line-height:20px">5.56%</div><div class="cell dc" style="left:19.6px;top:342.54px;width:45.63px;line-height:20px">11/18/2</div><div class="cell dc" style="left:72.35px;top:342.54px;width:45.36px;line-height:20px">1</div><div class="cell dc" style="left:124.85px;top:342.54px;width:75.41px;line-height:20px">$3,800.00</div><div class="cell dc" style="left:204.85px;top:342.54px;width:75.41px;line-height:20px">$680.00</div><div class="cell dc" style="left:284.85px;top:342.54px;width:65.85px;line-height:20px">$680.00</div><div class="cell dc" style="left:356.1px;top:342.54px;width:75.41px;line-height:20px">$0.00</div><div class="cell dc" style="left:436.1px;top:342.54px;width:45.36px;line-height:20px">$0.00</div><div class="cell red dc" style="left:488.6px;top:342.54px;width:45.36px;line-height:20px">($280.00)</div><div class="cell dc" style="left:541.1px;top:342.54px;width:45.36px;line-height:20px">$0.00</div><div class="cell dc" style="left:593.6px;top:342.54px;width:45.36px;line-height:20px">100.00%</div><div class="cell dc" style="left:646.1px;top:342.54px;width:44.81px;line-height:20px">$680.00</div><div class="cell dc" style="left:698.1px;top:342.54px;width:45.90px;line-height:20px">$680.00</div><div class="cell dc" style="left:751.1px;top:342.54px;width:45.90px;line-height:20px">$0.00</div><div class="cell dc" style="left:804.1px;top:342.54px;width:45.08px;line-height:20px">$680.00</div><div class="cell dc" style="left:856.35px;top:342.54px;width:45.08px;line-height:20px">$0.00</div><div class="cell dc" style="left:908.6px;top:342.54px;width:45.36px;line-height:20px">0.00</div><div class="cell dc" style="left:961.1px;top:342.54px;width:44.81px;line-height:20px">$0.00</div><div class="cell dc" style="left:1013.1px;top:342.54px;width:45.57px;line-height:20px">$680.00</div><div class="cell dc" style="left:1065.8px;top:342.54px;width:45.03px;line-height:20px">$0.00</div><div class="cell dc" style="left:1118.0px;top:342.54px;width:45.14px;line-height:20px">5.56%</div><div class="cell dc" style="left:19.6px;top:362.48px;width:45.63px;line-height:20px">11/19/2</div><div class="cell dc" style="left:72.35px;top:362.48px;width:45.36px;line-height:20px">1</div><div class="cell dc" style="left:124.85px;top:362.48px;width:75.41px;line-height:20px">$4,480.00</div><div class="cell dc" style="left:204.85px;top:362.48px;width:75.41px;line-height:20px">$680.00</div><div class="cell dc" style="left:284.85px;top:362.48px;width:65.85px;line-height:20px">$680.00</div><div class="cell dc" style="left:356.1px;top:362.48px;width:75.41px;line-height:20px">$0.00</div><div class="cell dc" style="left:436.1px;top:362.48px;width:45.36px;line-height:20px">$0.00</div><div class="cell dc" style="left:488.6px;top:362.48px;width:45.36px;line-height:20px">$0.00</div><div class="cell dc" style="left:541.1px;top:362.48px;width:45.36px;line-height:20px">$0.00</div><div class="cell dc" style="left:593.6px;top:362.48px;width:45.36px;line-height:20px">100.00%</div><div class="cell dc" style="left:646.1px;top:362.48px;width:44.81px;line-height:20px">$680.00</div><div class="cell dc" style="left:698.1px;top:362.48px;width:45.90px;line-height:20px">$680.00</div><div class="cell dc" style="left:751.1px;top:362.48px;width:45.90px;line-height:20px">$0.00</div><div class="cell dc" style="left:804.1px;top:362.48px;width:45.08px;line-height:20px">$680.00</div><div class="cell dc" style="left:856.35px;top:362.48px;width:45.08px;line-height:20px">$0.00</div><div class="cell dc" style="left:908.6px;top:362.48px;width:45.36px;line-height:20px">0.00</div><div class="cell dc" style="left:961.1px;top:362.48px;width:44.81px;line-height:20px">$0.00</div><div class="cell dc" style="left:1013.1px;top:362.48px;width:45.57px;line-height:20px">$680.00</div><div class="cell dc" style="left:1065.8px;top:362.48px;width:45.03px;line-height:20px">$0.00</div><div class="cell dc" style="left:1118.0px;top:362.48px;width:45.14px;line-height:20px">5.56%</div><div class="cell dc" style="left:19.6px;top:382.42px;width:45.63px;line-height:20px">11/20/2</div><div class="cell dc" style="left:72.35px;top:382.42px;width:45.36px;line-height:20px">1</div><div class="cell dc" style="left:124.85px;top:382.42px;width:75.41px;line-height:20px">$5,160.00</div><div class="cell dc" style="left:204.85px;top:382.42px;width:75.41px;line-height:20px">$680.00</div><div class="cell dc" style="left:284.85px;top:382.42px;width:65.85px;line-height:20px">$680.00</div><div class="cell dc" style="left:356.1px;top:382.42px;width:75.41px;line-height:20px">$0.00</div><div class="cell dc" style="left:436.1px;top:382.42px;width:45.36px;line-height:20px">$0.00</div><div class="cell dc" style="left:488.6px;top:382.42px;width:45.36px;line-height:20px">$0.00</div><div class="cell dc" style="left:541.1px;top:382.42px;width:45.36px;line-height:20px">$0.00</div><div class="cell dc" style="left:593.6px;top:382.42px;width:45.36px;line-height:20px">100.00%</div><div class="cell dc" style="left:646.1px;top:382.42px;width:44.81px;line-height:20px">$680.00</div><div class="cell dc" style="left:698.1px;top:382.42px;width:45.90px;line-height:20px">$680.00</div><div class="cell dc" style="left:751.1px;top:382.42px;width:45.90px;line-height:20px">$0.00</div><div class="cell dc" style="left:804.1px;top:382.42px;width:45.08px;line-height:20px">$680.00</div><div class="cell dc" style="left:856.35px;top:382.42px;width:45.08px;line-height:20px">$0.00</div><div class="cell dc" style="left:908.6px;top:382.42px;width:45.36px;line-height:20px">0.00</div><div class="cell dc" style="left:961.1px;top:382.42px;width:44.81px;line-height:20px">$0.00</div><div class="cell dc" style="left:1013.1px;top:382.42px;width:45.57px;line-height:20px">$680.00</div><div class="cell dc" style="left:1065.8px;top:382.42px;width:45.03px;line-height:20px">$0.00</div><div class="cell dc" style="left:1118.0px;top:382.42px;width:45.14px;line-height:20px">5.56%</div><div class="cell dc" style="left:19.6px;top:402.36px;width:45.63px;line-height:20px">11/24/2</div><div class="cell dc" style="left:72.35px;top:402.36px;width:45.36px;line-height:20px">1</div><div class="cell dc" style="left:124.85px;top:402.36px;width:75.41px;line-height:20px">$5,840.00</div><div class="cell dc" style="left:204.85px;top:402.36px;width:75.41px;line-height:20px">$680.00</div><div class="cell dc" style="left:284.85px;top:402.36px;width:65.85px;line-height:20px">$680.00</div><div class="cell dc" style="left:356.1px;top:402.36px;width:75.41px;line-height:20px">$0.00</div><div class="cell dc" style="left:436.1px;top:402.36px;width:45.36px;line-height:20px">$0.00</div><div class="cell dc" style="left:488.6px;top:402.36px;width:45.36px;line-height:20px">$0.00</div><div class="cell dc" style="left:541.1px;top:402.36px;width:45.36px;line-height:20px">$0.00</div><div class="cell dc" style="left:593.6px;top:402.36px;width:45.36px;line-height:20px">100.00%</div><div class="cell dc" style="left:646.1px;top:402.36px;width:44.81px;line-height:20px">$680.00</div><div class="cell dc" style="left:698.1px;top:402.36px;width:45.90px;line-height:20px">$680.00</div><div class="cell dc" style="left:751.1px;top:402.36px;width:45.90px;line-height:20px">$0.00</div><div class="cell dc" style="left:804.1px;top:402.36px;width:45.08px;line-height:20px">$680.00</div><div class="cell dc" style="left:856.35px;top:402.36px;width:45.08px;line-height:20px">$0.00</div><div class="cell dc" style="left:908.6px;top:402.36px;width:45.36px;line-height:20px">0.05</div><div class="cell dc" style="left:961.1px;top:402.36px;width:44.81px;line-height:20px">$980.00</div><div class="cell dc" style="left:1013.1px;top:402.36px;width:45.57px;line-height:20px">$680.00</div><div class="cell dc" style="left:1065.8px;top:402.36px;width:45.03px;line-height:20px">$0.00</div><div class="cell dc" style="left:1118.0px;top:402.36px;width:45.14px;line-height:20px">5.56%</div><div class="cell dc" style="left:19.6px;top:422.30px;width:45.63px;line-height:20px">11/25/2</div><div class="cell dc" style="left:72.35px;top:422.30px;width:45.36px;line-height:20px">1</div><div class="cell dc" style="left:124.85px;top:422.30px;width:75.41px;line-height:20px">$6,520.00</div><div class="cell dc" style="left:204.85px;top:422.30px;width:75.41px;line-height:20px">$680.00</div><div class="cell dc" style="left:284.85px;top:422.30px;width:65.85px;line-height:20px">$680.00</div><div class="cell dc" style="left:356.1px;top:422.30px;width:75.41px;line-height:20px">$0.00</div><div class="cell dc" style="left:436.1px;top:422.30px;width:45.36px;line-height:20px">$0.00</div><div class="cell dc" style="left:488.6px;top:422.30px;width:45.36px;line-height:20px">$0.00</div><div class="cell dc" style="left:541.1px;top:422.30px;width:45.36px;line-height:20px">$0.00</div><div class="cell dc" style="left:593.6px;top:422.30px;width:45.36px;line-height:20px">100.00%</div><div class="cell dc" style="left:646.1px;top:422.30px;width:44.81px;line-height:20px">$680.00</div><div class="cell dc" style="left:698.1px;top:422.30px;width:45.90px;line-height:20px">$680.00</div><div class="cell dc" style="left:751.1px;top:422.30px;width:45.90px;line-height:20px">$0.00</div><div class="cell dc" style="left:804.1px;top:422.30px;width:45.08px;line-height:20px">$680.00</div><div class="cell dc" style="left:856.35px;top:422.30px;width:45.08px;line-height:20px">$0.00</div><div class="cell dc" style="left:908.6px;top:422.30px;width:45.36px;line-height:20px">0.15</div><div class="cell dc" style="left:961.1px;top:422.30px;width:44.81px;line-height:20px">$480.00</div><div class="cell dc" style="left:1013.1px;top:422.30px;width:45.57px;line-height:20px">$680.00</div><div class="cell dc" style="left:1065.8px;top:422.30px;width:45.03px;line-height:20px">$0.00</div><div class="cell dc" style="left:1118.0px;top:422.30px;width:45.14px;line-height:20px">5.56%</div><div class="cell dc" style="left:19.6px;top:442.24px;width:45.63px;line-height:20px">11/26/2</div><div class="cell dc" style="left:72.35px;top:442.24px;width:45.36px;line-height:20px">1</div><div class="cell dc" style="left:124.85px;top:442.24px;width:75.41px;line-height:20px">$5,020.00</div><div class="cell red dc" style="left:204.85px;top:442.24px;width:75.41px;line-height:20px">($1,500.00)</div><div class="cell dc" style="left:284.85px;top:442.24px;width:65.85px;line-height:20px">$0.00</div><div class="cell red dc" style="left:356.1px;top:442.24px;width:75.41px;line-height:20px">($1,500.00)</div><div class="cell dc" style="left:436.1px;top:442.24px;width:45.36px;line-height:20px">$0.00</div><div class="cell red dc" style="left:488.6px;top:442.24px;width:45.36px;line-height:20px">($1,500.00)</div><div class="cell red dc" style="left:541.1px;top:442.24px;width:45.36px;line-height:20px">($1,500.00)</div><div class="cell dc" style="left:593.6px;top:442.24px;width:45.36px;line-height:20px">0.00%</div><div class="cell red dc" style="left:646.1px;top:442.24px;width:44.81px;line-height:20px">($1,500.00)</div><div class="cell dc" style="left:698.1px;top:442.24px;width:45.90px;line-height:20px">$0.00</div><div class="cell red dc" style="left:751.1px;top:442.24px;width:45.90px;line-height:20px">($1,500.00)</div><div class="cell dc" style="left:804.1px;top:442.24px;width:45.08px;line-height:20px">$0.00</div><div class="cell red dc" style="left:856.35px;top:442.24px;width:45.08px;line-height:20px">($1,500.00)</div><div class="cell dc" style="left:908.6px;top:442.24px;width:45.36px;line-height:20px">0.75</div><div class="cell dc" style="left:961.1px;top:442.24px;width:44.81px;line-height:20px">$1,500.00</div><div class="cell dc" style="left:1013.1px;top:442.24px;width:45.57px;line-height:20px">$620.00</div><div class="cell dc" style="left:1065.8px;top:442.24px;width:45.03px;line-height:20px">$2,120.00</div><div class="cell dc" style="left:1118.0px;top:442.24px;width:45.14px;line-height:20px">5.56%</div><div class="cell dc" style="left:19.6px;top:462.18px;width:45.63px;line-height:20px">11/27/2</div><div class="cell dc" style="left:72.35px;top:462.18px;width:45.36px;line-height:20px">1</div><div class="cell dc" style="left:124.85px;top:462.18px;width:75.41px;line-height:20px">$5,700.00</div><div class="cell dc" style="left:204.85px;top:462.18px;width:75.41px;line-height:20px">$680.00</div><div class="cell dc" style="left:284.85px;top:462.18px;width:65.85px;line-height:20px">$680.00</div><div class="cell dc" style="left:356.1px;top:462.18px;width:75.41px;line-height:20px">$0.00</div><div class="cell dc" style="left:436.1px;top:462.18px;width:45.36px;line-height:20px">$0.00</div><div class="cell red dc" style="left:488.6px;top:462.18px;width:45.36px;line-height:20px">($820.00)</div><div class="cell dc" style="left:541.1px;top:462.18px;width:45.36px;line-height:20px">$0.00</div><div class="cell dc" style="left:593.6px;top:462.18px;width:45.36px;line-height:20px">100.00%</div><div class="cell dc" style="left:646.1px;top:462.18px;width:44.81px;line-height:20px">$680.00</div><div class="cell dc" style="left:698.1px;top:462.18px;width:45.90px;line-height:20px">$680.00</div><div class="cell dc" style="left:751.1px;top:462.18px;width:45.90px;line-height:20px">$0.00</div><div class="cell dc" style="left:804.1px;top:462.18px;width:45.08px;line-height:20px">$680.00</div><div class="cell dc" style="left:856.35px;top:462.18px;width:45.08px;line-height:20px">$0.00</div><div class="cell dc" style="left:908.6px;top:462.18px;width:45.36px;line-height:20px">1.60</div><div class="cell dc" style="left:961.1px;top:462.18px;width:44.81px;line-height:20px">$240.00</div><div class="cell dc" style="left:1013.1px;top:462.18px;width:45.57px;line-height:20px">$680.00</div><div class="cell dc" style="left:1065.8px;top:462.18px;width:45.03px;line-height:20px">$0.00</div><div class="cell dc" style="left:1118.0px;top:462.18px;width:45.14px;line-height:20px">5.56%</div><div class="a" style="left:14px;top:510px;width:1151px;height:298px;border:1px solid #3a3a3a;background:#fff"></div><div class="a" style="left:15px;top:511px;width:1149px;height:32px;background:#E3E3E3;border-bottom:1px solid #3a3a3a"></div><div class="lbl" style="left:21px;top:517.8px;line-height:20px">Graph</div><div class="dd" style="left:58px;top:518px;width:138px;height:20px;"><div class="ddt" style="left:5.2px;top:0.8px;line-height:18px;font-size:12.4px;width:118.7px;transform:scaleX(0.95);transform-origin:0 0">Cumulative Net Profit</div><svg style="position:absolute;left:124px;top:5.5px" width="10" height="8" viewBox="0 0 10 8"><path d="M0.8 1.1 L4.8 5.9 L8.8 1.1" fill="none" stroke="#111" stroke-width="2.2"/></svg></div><svg class="a" style="left:0;top:0" width="1500" height="843" viewBox="0 0 1500 843"><rect x="230.2" y="548" width="88.5" height="223" fill="#E6E6E8"/><rect x="407.1" y="548" width="88.5" height="223" fill="#E6E6E8"/><rect x="584.1" y="548" width="88.5" height="223" fill="#E6E6E8"/><rect x="761.0" y="548" width="88.5" height="223" fill="#E6E6E8"/><rect x="938.0" y="548" width="88.5" height="223" fill="#E6E6E8"/><rect x="93" y="548" width="4" height="223" fill="#EDEDED"/><rect x="93" y="770" width="1068" height="1" fill="#E0E0E0"/><line x1="97" y1="746.0" x2="1160" y2="746.0" stroke="#8c8c8c" stroke-width="1.3" stroke-dasharray="4.8,2"/><line x1="97" y1="725.9" x2="1160" y2="725.9" stroke="#8c8c8c" stroke-width="1.3" stroke-dasharray="4.8,2"/><line x1="97" y1="705.9" x2="1160" y2="705.9" stroke="#8c8c8c" stroke-width="1.3" stroke-dasharray="4.8,2"/><line x1="97" y1="685.8" x2="1160" y2="685.8" stroke="#8c8c8c" stroke-width="1.3" stroke-dasharray="4.8,2"/><line x1="97" y1="665.8" x2="1160" y2="665.8" stroke="#8c8c8c" stroke-width="1.3" stroke-dasharray="4.8,2"/><line x1="97" y1="645.7" x2="1160" y2="645.7" stroke="#8c8c8c" stroke-width="1.3" stroke-dasharray="4.8,2"/><line x1="97" y1="625.6" x2="1160" y2="625.6" stroke="#8c8c8c" stroke-width="1.3" stroke-dasharray="4.8,2"/><line x1="97" y1="605.6" x2="1160" y2="605.6" stroke="#8c8c8c" stroke-width="1.3" stroke-dasharray="4.8,2"/><line x1="97" y1="585.5" x2="1160" y2="585.5" stroke="#8c8c8c" stroke-width="1.3" stroke-dasharray="4.8,2"/><line x1="97" y1="565.5" x2="1160" y2="565.5" stroke="#8c8c8c" stroke-width="1.3" stroke-dasharray="4.8,2"/><line x1="97.5" y1="548" x2="97.5" y2="773" stroke="#7a7a7a" stroke-width="1.2" stroke-dasharray="4.5,2.3"/><line x1="230.2" y1="548" x2="230.2" y2="773" stroke="#7a7a7a" stroke-width="1.2" stroke-dasharray="4.5,2.3"/><line x1="318.7" y1="548" x2="318.7" y2="773" stroke="#7a7a7a" stroke-width="1.2" stroke-dasharray="4.5,2.3"/><line x1="407.1" y1="548" x2="407.1" y2="773" stroke="#7a7a7a" stroke-width="1.2" stroke-dasharray="4.5,2.3"/><line x1="495.6" y1="548" x2="495.6" y2="773" stroke="#7a7a7a" stroke-width="1.2" stroke-dasharray="4.5,2.3"/><line x1="584.1" y1="548" x2="584.1" y2="773" stroke="#7a7a7a" stroke-width="1.2" stroke-dasharray="4.5,2.3"/><line x1="672.6" y1="548" x2="672.6" y2="773" stroke="#7a7a7a" stroke-width="1.2" stroke-dasharray="4.5,2.3"/><line x1="761.0" y1="548" x2="761.0" y2="773" stroke="#7a7a7a" stroke-width="1.2" stroke-dasharray="4.5,2.3"/><line x1="849.5" y1="548" x2="849.5" y2="773" stroke="#7a7a7a" stroke-width="1.2" stroke-dasharray="4.5,2.3"/><line x1="938.0" y1="548" x2="938.0" y2="773" stroke="#7a7a7a" stroke-width="1.2" stroke-dasharray="4.5,2.3"/><line x1="1026.4" y1="548" x2="1026.4" y2="773" stroke="#7a7a7a" stroke-width="1.2" stroke-dasharray="4.5,2.3"/><polygon points="97.5,766.0 97.5,743.3 141.7,720.6 186.0,697.8 230.2,675.1 274.4,652.4 407.1,629.7 451.4,679.8 495.6,657.1 539.9,707.2 584.1,684.5 716.8,661.7 761.0,639.0 805.3,616.3 849.5,593.6 1026.4,570.8 1070.7,548.1 1114.9,598.2 1159.1,575.5 1159.1,766.0" fill="rgb(76,221,8)" fill-opacity="0.44"/><polyline points="97.5,766.0 97.5,743.3 141.7,720.6 186.0,697.8 230.2,675.1 274.4,652.4 407.1,629.7 451.4,679.8 495.6,657.1 539.9,707.2 584.1,684.5 716.8,661.7 761.0,639.0 805.3,616.3 849.5,593.6 1026.4,570.8 1070.7,548.1 1114.9,598.2 1159.1,575.5 1159.1,766.0" fill="none" stroke="#55D82A" stroke-width="2.2" stroke-linejoin="miter"/><rect x="96.8" y="766" width="1.4" height="7" fill="#444"/><rect x="229.5" y="766" width="1.4" height="7" fill="#444"/><rect x="318.0" y="766" width="1.4" height="7" fill="#444"/><rect x="406.4" y="766" width="1.4" height="7" fill="#444"/><rect x="494.9" y="766" width="1.4" height="7" fill="#444"/><rect x="583.4" y="766" width="1.4" height="7" fill="#444"/><rect x="671.9" y="766" width="1.4" height="7" fill="#444"/><rect x="760.3" y="766" width="1.4" height="7" fill="#444"/><rect x="848.8" y="766" width="1.4" height="7" fill="#444"/><rect x="937.3" y="766" width="1.4" height="7" fill="#444"/><rect x="1025.7" y="766" width="1.4" height="7" fill="#444"/><rect x="1158.4" y="766" width="1.4" height="7" fill="#444"/><rect x="97" y="765.4" width="1063" height="1.7" fill="#111"/><rect x="91.3" y="548" width="1.6" height="223" fill="#555"/><rect x="89" y="765.2" width="3" height="1.5" fill="#333"/><text transform="translate(85.9,770.3) scale(0.9,1)" x="0" y="0" text-anchor="end" font-family="Liberation Sans" font-size="12.5" fill="#1a1a1a">$0.00</text><rect x="89" y="745.2" width="3" height="1.5" fill="#333"/><text transform="translate(85.9,750.2) scale(0.9,1)" x="0" y="0" text-anchor="end" font-family="Liberation Sans" font-size="12.5" fill="#1a1a1a">$600.00</text><rect x="89" y="725.1" width="3" height="1.5" fill="#333"/><text transform="translate(85.9,730.2) scale(0.9,1)" x="0" y="0" text-anchor="end" font-family="Liberation Sans" font-size="12.5" fill="#1a1a1a">$1,200.00</text><rect x="89" y="705.1" width="3" height="1.5" fill="#333"/><text transform="translate(85.9,710.1) scale(0.9,1)" x="0" y="0" text-anchor="end" font-family="Liberation Sans" font-size="12.5" fill="#1a1a1a">$1,800.00</text><rect x="89" y="685.0" width="3" height="1.5" fill="#333"/><text transform="translate(85.9,690.1) scale(0.9,1)" x="0" y="0" text-anchor="end" font-family="Liberation Sans" font-size="12.5" fill="#1a1a1a">$2,400.00</text><rect x="89" y="665.0" width="3" height="1.5" fill="#333"/><text transform="translate(85.9,670.0) scale(0.9,1)" x="0" y="0" text-anchor="end" font-family="Liberation Sans" font-size="12.5" fill="#1a1a1a">$3,000.00</text><rect x="89" y="645.0" width="3" height="1.5" fill="#333"/><text transform="translate(85.9,650.0) scale(0.9,1)" x="0" y="0" text-anchor="end" font-family="Liberation Sans" font-size="12.5" fill="#1a1a1a">$3,600.00</text><rect x="89" y="624.9" width="3" height="1.5" fill="#333"/><text transform="translate(85.9,629.9) scale(0.9,1)" x="0" y="0" text-anchor="end" font-family="Liberation Sans" font-size="12.5" fill="#1a1a1a">$4,200.00</text><rect x="89" y="604.9" width="3" height="1.5" fill="#333"/><text transform="translate(85.9,609.9) scale(0.9,1)" x="0" y="0" text-anchor="end" font-family="Liberation Sans" font-size="12.5" fill="#1a1a1a">$4,800.00</text><rect x="89" y="584.8" width="3" height="1.5" fill="#333"/><text transform="translate(85.9,589.8) scale(0.9,1)" x="0" y="0" text-anchor="end" font-family="Liberation Sans" font-size="12.5" fill="#1a1a1a">$5,400.00</text><rect x="89" y="564.8" width="3" height="1.5" fill="#333"/><text transform="translate(85.9,569.8) scale(0.9,1)" x="0" y="0" text-anchor="end" font-family="Liberation Sans" font-size="12.5" fill="#1a1a1a">$6,000.00</text><text transform="translate(28.1,660) rotate(-90)" text-anchor="middle" font-family="Liberation Sans" font-size="12" fill="#1a1a1a">Cumulative profit ($)</text><text x="97.5" y="786.5" text-anchor="start" font-family="Liberation Sans" font-size="12.3" fill="#1a1a1a">11/3/2025</text><text x="227.4" y="786.5" text-anchor="middle" font-family="Liberation Sans" font-size="12.3" fill="#1a1a1a">11/6/2025</text><text x="315.9" y="786.5" text-anchor="middle" font-family="Liberation Sans" font-size="12.3" fill="#1a1a1a">11/8/2025</text><text x="407.7" y="786.5" text-anchor="middle" font-family="Liberation Sans" font-size="12.3" fill="#1a1a1a">11/10/2025</text><text x="496.2" y="786.5" text-anchor="middle" font-family="Liberation Sans" font-size="12.3" fill="#1a1a1a">11/12/2025</text><text x="584.7" y="786.5" text-anchor="middle" font-family="Liberation Sans" font-size="12.3" fill="#1a1a1a">11/14/2025</text><text x="673.2" y="786.5" text-anchor="middle" font-family="Liberation Sans" font-size="12.3" fill="#1a1a1a">11/16/2025</text><text x="761.6" y="786.5" text-anchor="middle" font-family="Liberation Sans" font-size="12.3" fill="#1a1a1a">11/18/2025</text><text x="850.1" y="786.5" text-anchor="middle" font-family="Liberation Sans" font-size="12.3" fill="#1a1a1a">11/20/2025</text><text x="938.6" y="786.5" text-anchor="middle" font-family="Liberation Sans" font-size="12.3" fill="#1a1a1a">11/22/2025</text><text x="1027.0" y="786.5" text-anchor="middle" font-family="Liberation Sans" font-size="12.3" fill="#1a1a1a">11/24/2025</text><text x="1160.1" y="786.5" text-anchor="end" font-family="Liberation Sans" font-size="12.3" fill="#1a1a1a">11/27/2025</text><text x="626" y="801" text-anchor="middle" font-family="Liberation Sans" font-size="11.5" fill="#1a1a1a">Date</text></svg><div class="a" style="left:1178px;top:30px;width:318px;height:785px;background:#fff;border:1px solid #333;border-right:2px solid #6a6a6a"></div><div class="a" style="left:1179px;top:57px;width:315px;height:1px;background:#333"></div><div class="lbl" style="left:1185px;top:34.5px;line-height:20px;color:#222;font-size:12px">Settings</div><svg class="a" style="left:1461px;top:36px" width="12" height="16" viewBox="0 0 12 16"><rect x="4" y="2" width="3.6" height="6.8" fill="#fff" stroke="#111" stroke-width="1.3"/><rect x="2.6" y="8.2" width="6.4" height="1.6" fill="#111"/><path d="M5.8 9.5 L5.8 15.5" stroke="#111" stroke-width="1.5"/></svg><div class="a" style="left:1479px;top:31px;width:1px;height:26px;background:#EDEDED"></div><svg class="a" style="left:1481px;top:34px" width="12" height="20" viewBox="0 0 12 20"><path d="M1.5 6.5 L5.5 2.3 L9.5 6.5 Z" fill="#111"/><path d="M1.5 14 L5.5 18.2 L9.5 14 Z" fill="#111"/></svg><div class="a" style="left:1479px;top:58px;width:15px;height:717px;background:#E5E5E5"></div><div class="a" style="left:1479px;top:58px;width:15px;height:510px;background:#F0F0F0;border-left:1px solid #D8D8D8;border-bottom:1px solid #D6D6D6"></div><div class="a" style="left:1482px;top:61px;width:9px;height:1px;background:#D0D0D0"></div><div class="a" style="left:1482px;top:64px;width:9px;height:1px;background:#D0D0D0"></div><div class="a" style="left:1179px;top:775px;width:315px;height:1px;background:#E6E6E6"></div><div class="a" style="left:1179px;top:58px;width:300px;height:685.5px;overflow:hidden"><svg class="a" style="left:6px;top:13px" width="10" height="6" viewBox="0 0 10 6"><path d="M0 0 L10 0 L5 5.6 Z" fill="#111"/></svg><div class="cat" style="left:24px;top:6px;line-height:20px">General</div><div class="item" style="left:30px;top:30.3px;line-height:20px">Backtest type</div><div class="dd" style="left:155px;top:29px;width:138px;height:21.5px;"><div class="ddt" style="left:6px;top:0.8px;line-height:19.5px;font-size:12px;width:117.9px;transform:scaleX(0.95);transform-origin:0 0">Backtest</div><svg style="position:absolute;left:123px;top:6.25px" width="10" height="8" viewBox="0 0 10 8"><path d="M0.8 1.1 L4.8 5.9 L8.8 1.1" fill="none" stroke="#111" stroke-width="2.2"/></svg></div><div class="item" style="left:30px;top:54.3px;line-height:20px">Strategy</div><div class="dd" style="left:155px;top:54px;width:138px;height:20px;"><div class="ddt" style="left:6px;top:0.8px;line-height:18px;font-size:12px;width:117.9px;transform:scaleX(0.95);transform-origin:0 0">SnoInvestStrategies9x</div><svg style="position:absolute;left:123px;top:5.5px" width="10" height="8" viewBox="0 0 10 8"><path d="M0.8 1.1 L4.8 5.9 L8.8 1.1" fill="none" stroke="#111" stroke-width="2.2"/></svg></div><div class="a" style="left:150px;top:26px;width:1.6px;height:50.5px;background:#7a7a7a"></div><svg class="a" style="left:8px;top:82.5px" width="6" height="10" viewBox="0 0 6 10"><path d="M0.5 0.5 L5.5 5 L0.5 9.5 Z" fill="#111"/></svg><div class="cat" style="left:24px;top:77.5px;line-height:20px">Risk Management</div><svg class="a" style="left:8px;top:105px" width="6" height="10" viewBox="0 0 6 10"><path d="M0.5 0.5 L5.5 5 L0.5 9.5 Z" fill="#111"/></svg><div class="cat" style="left:24px;top:100px;line-height:20px">Strategy Parameters</div><svg class="a" style="left:6px;top:129.5px" width="10" height="6" viewBox="0 0 10 6"><path d="M0 0 L10 0 L5 5.6 Z" fill="#111"/></svg><div class="cat" style="left:24px;top:122.5px;line-height:20px">Time</div><div class="item" style="left:30px;top:145.8px;line-height:20px">Trade Start Time</div><div class="tb" style="left:155px;top:145px;width:138px;height:19.5px"><div class="ddt" style="left:5px;line-height:17.5px;font-size:12px;transform:scaleX(0.93);transform-origin:0 0">09:30:00</div></div><div class="item" style="left:30px;top:168.8px;line-height:20px">Trade End Time</div><div class="tb" style="left:155px;top:168px;width:138px;height:19.5px"><div class="ddt" style="left:5px;line-height:17.5px;font-size:12px;transform:scaleX(0.93);transform-origin:0 0">09:31:00</div></div><div class="a" style="left:150px;top:142.5px;width:1.6px;height:48.0px;background:#7a7a7a"></div><svg class="a" style="left:6px;top:197.5px" width="10" height="6" viewBox="0 0 10 6"><path d="M0 0 L10 0 L5 5.6 Z" fill="#111"/></svg><div class="cat" style="left:24px;top:190.5px;line-height:20px">Trade Management</div><div class="item" style="left:30px;top:213.8px;line-height:20px">Enable Long Trades</div><div class="cb" style="left:155px;top:217px"><svg style="position:absolute;left:1px;top:1px" width="10" height="10" viewBox="0 0 10 10"><path d="M2 5 L4 7.5 L8 2.5" fill="none" stroke="#111" stroke-width="1.8"/></svg></div><div class="item" style="left:30px;top:236.8px;line-height:20px">Enable Short Trades</div><div class="cb" style="left:155px;top:240px"><svg style="position:absolute;left:1px;top:1px" width="10" height="10" viewBox="0 0 10 10"><path d="M2 5 L4 7.5 L8 2.5" fill="none" stroke="#111" stroke-width="1.8"/></svg></div><div class="item" style="left:30px;top:259.3px;line-height:20px">Number of Contracts</div><div class="tb" style="left:155px;top:258.5px;width:138px;height:19.5px"><div class="ddt" style="left:5px;line-height:17.5px;font-size:12px;transform:scaleX(0.93);transform-origin:0 0">4</div></div><div class="item" style="left:30px;top:281.8px;line-height:20px">Fixed Target Profit (...</div><div class="tb" style="left:155px;top:281px;width:138px;height:20px"><div class="ddt" style="left:5px;line-height:18px;font-size:12px;transform:scaleX(0.93);transform-origin:0 0">34</div></div><div class="item" style="left:30px;top:304.8px;line-height:20px">Fixed Stop Loss (Tic...</div><div class="tb" style="left:155px;top:304px;width:138px;height:19.5px"><div class="ddt" style="left:5px;line-height:17.5px;font-size:12px;transform:scaleX(0.93);transform-origin:0 0">75</div></div><div class="item" style="left:30px;top:327.3px;line-height:20px">Cancel On Opposite...</div><div class="cb" style="left:155px;top:330.5px"></div><div class="item" style="left:30px;top:349.8px;line-height:20px">Entry Offset (Ticks)</div><div class="tb" style="left:155px;top:349px;width:138px;height:19.5px"><div class="ddt" style="left:5px;line-height:17.5px;font-size:12px;transform:scaleX(0.93);transform-origin:0 0">3</div></div><div class="a" style="left:150px;top:210.5px;width:1.6px;height:160.5px;background:#7a7a7a"></div><svg class="a" style="left:6px;top:379px" width="10" height="6" viewBox="0 0 10 6"><path d="M0 0 L10 0 L5 5.6 Z" fill="#111"/></svg><div class="cat" style="left:24px;top:372px;line-height:20px">Data Series</div><div class="item" style="left:30px;top:395.3px;line-height:20px">Instrument</div><div class="dd" style="left:155px;top:395.5px;width:138px;height:18.0px;"><div class="ddt" style="left:5px;top:0.8px;line-height:16.0px;font-size:12px;width:118.9px;transform:scaleX(0.95);transform-origin:0 0">NQ 03-26</div><svg style="position:absolute;left:123px;top:4.5px" width="10" height="8" viewBox="0 0 10 8"><path d="M0.8 1.1 L4.8 5.9 L8.8 1.1" fill="none" stroke="#111" stroke-width="2.2"/></svg></div><div class="item" style="left:30px;top:419.3px;line-height:20px">Price based on</div><div class="dd" style="left:155px;top:417.5px;width:138px;height:21.5px;"><div class="ddt" style="left:6px;top:0.8px;line-height:19.5px;font-size:12px;width:117.9px;transform:scaleX(0.95);transform-origin:0 0">Last</div><svg style="position:absolute;left:123px;top:6.25px" width="10" height="8" viewBox="0 0 10 8"><path d="M0.8 1.1 L4.8 5.9 L8.8 1.1" fill="none" stroke="#111" stroke-width="2.2"/></svg></div><div class="item" style="left:30px;top:443.3px;line-height:20px">Type</div><div class="dd" style="left:155px;top:442.5px;width:138px;height:20.0px;"><div class="ddt" style="left:6px;top:0.8px;line-height:18.0px;font-size:12px;width:117.9px;transform:scaleX(0.95);transform-origin:0 0">Second</div><svg style="position:absolute;left:123px;top:5.5px" width="10" height="8" viewBox="0 0 10 8"><path d="M0.8 1.1 L4.8 5.9 L8.8 1.1" fill="none" stroke="#111" stroke-width="2.2"/></svg></div><div class="item" style="left:30px;top:466.3px;line-height:20px">Value</div><div class="tb" style="left:155px;top:466px;width:138px;height:19.5px"><div class="ddt" style="left:5px;line-height:17.5px;font-size:12px;transform:scaleX(0.93);transform-origin:0 0">3</div></div><div class="a" style="left:150px;top:391.5px;width:1.6px;height:97.0px;background:#7a7a7a"></div><svg class="a" style="left:6px;top:495.5px" width="10" height="6" viewBox="0 0 10 6"><path d="M0 0 L10 0 L5 5.6 Z" fill="#111"/></svg><div class="cat" style="left:24px;top:488.5px;line-height:20px">Time frame</div><div class="item" style="left:30px;top:512.8px;line-height:20px">Start date</div><div class="dd" style="left:155px;top:511px;width:138px;height:21.5px;"><div class="ddt" style="left:24px;top:0.8px;line-height:19.5px;font-size:12px;width:98.9px;transform:scaleX(0.95);transform-origin:0 0"><span style="font-size:12.3px">11/03/2025</span></div><svg style="position:absolute;left:6px;top:4px" width="12" height="12" viewBox="0 0 12 12"><rect x="0.5" y="0.5" width="11" height="11" fill="#E8E9E9" stroke="#555" stroke-width="1"/><rect x="0" y="0" width="12" height="3" fill="#222"/><path d="M0.5 5.5 H11.5 M0.5 8 H11.5 M3 3 V12 M5.5 3 V12 M8 3 V12" stroke="#777" stroke-width="0.8"/></svg><svg style="position:absolute;left:123px;top:6.25px" width="10" height="8" viewBox="0 0 10 8"><path d="M0.8 1.1 L4.8 5.9 L8.8 1.1" fill="none" stroke="#111" stroke-width="2.2"/></svg></div><div class="item" style="left:30px;top:537.8px;line-height:20px">End date</div><div class="dd" style="left:155px;top:536.5px;width:138px;height:21.0px;"><div class="ddt" style="left:24px;top:0.8px;line-height:19.0px;font-size:12px;width:98.9px;transform:scaleX(0.95);transform-origin:0 0"><span style="font-size:12.3px">11/28/2025</span></div><svg style="position:absolute;left:6px;top:4px" width="12" height="12" viewBox="0 0 12 12"><rect x="0.5" y="0.5" width="11" height="11" fill="#E8E9E9" stroke="#555" stroke-width="1"/><rect x="0" y="0" width="12" height="3" fill="#222"/><path d="M0.5 5.5 H11.5 M0.5 8 H11.5 M3 3 V12 M5.5 3 V12 M8 3 V12" stroke="#777" stroke-width="0.8"/></svg><svg style="position:absolute;left:123px;top:6.0px" width="10" height="8" viewBox="0 0 10 8"><path d="M0.8 1.1 L4.8 5.9 L8.8 1.1" fill="none" stroke="#111" stroke-width="2.2"/></svg></div><div class="item" style="left:30px;top:562.8px;line-height:20px">Trading hours</div><div class="dd" style="left:155px;top:561.5px;width:138px;height:21.5px;"><div class="ddt" style="left:7px;top:0.8px;line-height:19.5px;font-size:12px;width:116.8px;transform:scaleX(0.95);transform-origin:0 0">&lt;Use instrument se...</div><svg style="position:absolute;left:123px;top:6.25px" width="10" height="8" viewBox="0 0 10 8"><path d="M0.8 1.1 L4.8 5.9 L8.8 1.1" fill="none" stroke="#111" stroke-width="2.2"/></svg></div><div class="item" style="left:30px;top:586.8px;line-height:20px">Break at EOD</div><div class="cb" style="left:155px;top:590px"><svg style="position:absolute;left:1px;top:1px" width="10" height="10" viewBox="0 0 10 10"><path d="M2 5 L4 7.5 L8 2.5" fill="none" stroke="#111" stroke-width="1.8"/></svg></div><div class="a" style="left:150px;top:508px;width:1.6px;height:100.5px;background:#7a7a7a"></div><svg class="a" style="left:6px;top:616px" width="10" height="6" viewBox="0 0 10 6"><path d="M0 0 L10 0 L5 5.6 Z" fill="#111"/></svg><div class="cat" style="left:24px;top:609px;line-height:20px">Setup</div><div class="item" style="left:30px;top:632.3px;line-height:20px">Include commission</div><div class="cb" style="left:155px;top:635.5px"></div><div class="item" style="left:30px;top:655.8px;line-height:20px">Maximum bars look...</div><div class="dd" style="left:155px;top:654.5px;width:138px;height:21.0px;"><div class="ddt" style="left:7px;top:0.8px;line-height:19.0px;font-size:12px;width:116.8px;transform:scaleX(0.95);transform-origin:0 0">256</div><svg style="position:absolute;left:123px;top:6.0px" width="10" height="8" viewBox="0 0 10 8"><path d="M0.8 1.1 L4.8 5.9 L8.8 1.1" fill="none" stroke="#111" stroke-width="2.2"/></svg></div><div class="item" style="left:30px;top:679.3px;line-height:20px">Bars required to trade</div><div class="tb" style="left:155px;top:678.5px;width:138px;height:19.5px"><div class="ddt" style="left:5px;line-height:17.5px;font-size:12px;transform:scaleX(0.93);transform-origin:0 0">20</div></div><div class="a" style="left:150px;top:629px;width:1.6px;height:73px;background:#7a7a7a"></div></div><div class="a" style="left:1420px;top:753px;width:54px;height:20px;overflow:hidden"><div style="position:absolute;left:10px;top:0;line-height:20px;font-size:12px;font-style:italic;color:#222;white-space:nowrap">template</div></div><div class="a" style="left:1393px;top:782px;width:95px;height:26px;background:#6B6B6B;color:#EEEEEE;font-size:13.5px;line-height:28px;text-align:center">Run</div></body></html>
